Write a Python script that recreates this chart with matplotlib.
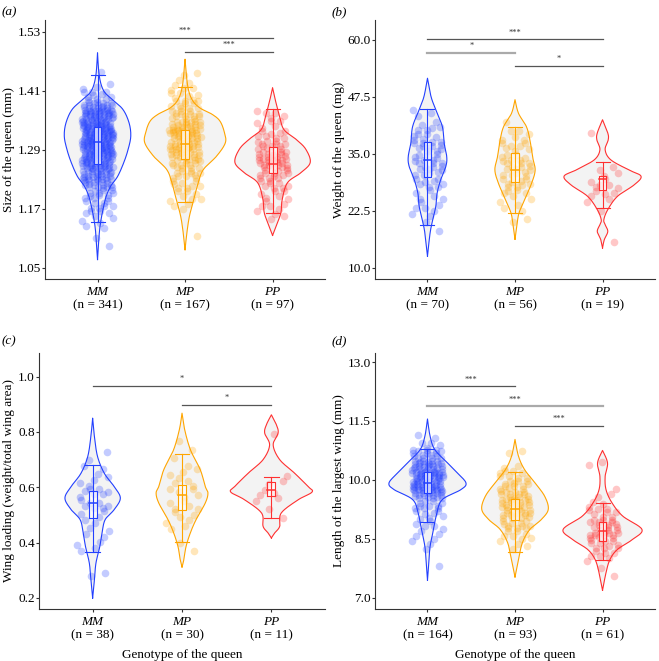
#!/usr/bin/env python3
"""Violin + jitter + box panels for queen genotype comparisons."""

import matplotlib

matplotlib.use("Agg")
import matplotlib.pyplot as plt
import numpy as np

plt.rcParams["font.family"] = ["Liberation Serif", "DejaVu Serif"]

GENOTYPES = ["MM", "MP", "PP"]
COLORS = ["#2340FF", "#FFA500", "#FF3030"]

# ---- (a) size of the queen -------------------------------------------------
SIZE_N = [341, 167, 97]
SIZE_TICKS = [1.05, 1.17, 1.29, 1.41, 1.53]
SIZE_BIN_START = 1.05
SIZE_BIN_WIDTH = 0.02
SIZE_MM_COUNTS = [0, 0, 1, 1, 4, 6, 8, 12, 18, 26, 32, 38, 42, 43, 40, 34, 22, 10, 3, 1]
SIZE_MP_COUNTS = [0, 0, 0, 1, 0, 0, 4, 6, 8, 10, 14, 18, 22, 24, 22, 14, 10, 6, 5, 3]
SIZE_PP_COUNTS = [0, 0, 0, 0, 0, 4, 5, 6, 8, 12, 16, 16, 12, 8, 5, 5]
SIZE_MM_BOX = [1.143, 1.261, 1.306, 1.336, 1.441]
SIZE_MP_BOX = [1.183, 1.272, 1.302, 1.330, 1.418]
SIZE_PP_BOX = [1.162, 1.242, 1.261, 1.296, 1.372]
SIZE_MM_VIOLIN = [(1.067, 0), (1.12, 0.02), (1.148, 0.04), (1.175, 0.07), (1.196, 0.10),
                  (1.216, 0.15), (1.236, 0.23), (1.264, 0.30), (1.291, 0.35), (1.318, 0.38),
                  (1.345, 0.36), (1.372, 0.29), (1.392, 0.17), (1.41, 0.07), (1.44, 0.02),
                  (1.487, 0)]
SIZE_MP_VIOLIN = [(1.087, 0), (1.12, 0.02), (1.155, 0.05), (1.189, 0.10), (1.223, 0.15),
                  (1.25, 0.21), (1.277, 0.36), (1.304, 0.46), (1.325, 0.45), (1.348, 0.40),
                  (1.362, 0.31), (1.375, 0.17), (1.392, 0.08), (1.42, 0.03), (1.474, 0)]
SIZE_PP_VIOLIN = [(1.116, 0), (1.135, 0.04), (1.162, 0.095), (1.189, 0.11), (1.223, 0.17),
                  (1.243, 0.32), (1.264, 0.43), (1.291, 0.38), (1.311, 0.27), (1.331, 0.13),
                  (1.358, 0.08), (1.392, 0.03), (1.416, 0)]
SIZE_SIG = [(0, 2, 1.518, "***", "dark"), (1, 2, 1.489, "***", "dark")]

# ---- (b) weight of the queen -----------------------------------------------
WEIGHT_N = [70, 56, 19]
WEIGHT_TICKS = [10.0, 22.5, 35.0, 47.5, 60.0]
WEIGHT_BIN_START = 10.0
WEIGHT_BIN_WIDTH = 2.5
WEIGHT_MM_COUNTS = [0, 0, 0, 1, 3, 5, 5, 8, 10, 11, 10, 8, 6, 3]
WEIGHT_MP_COUNTS = [0, 0, 0, 0, 2, 4, 6, 9, 11, 10, 7, 5, 2]
WEIGHT_PP_COUNTS = [0, 0, 1, 0, 0, 2, 5, 6, 4, 0, 0, 1]
WEIGHT_MM_BOX = [19.4, 29.9, 33.7, 37.7, 44.8]
WEIGHT_MP_BOX = [22.0, 28.8, 31.5, 35.2, 41.0]
WEIGHT_PP_BOX = [23.1, 27.0, 29.6, 30.2, 33.2]
WEIGHT_MM_VIOLIN = [(12.6, 0), (17.7, 0.03), (20.6, 0.06), (23.5, 0.095), (26.4, 0.11),
                    (29.3, 0.15), (32.3, 0.21), (34.4, 0.22), (37.4, 0.19), (41.0, 0.17),
                    (44.7, 0.095), (47.6, 0.04), (51.6, 0)]
WEIGHT_MP_VIOLIN = [(16.3, 0), (19.1, 0.02), (22.0, 0.045), (25.0, 0.11), (28.6, 0.19),
                    (31.5, 0.23), (34.4, 0.20), (38.1, 0.17), (41.0, 0.13), (43.9, 0.04),
                    (46.9, 0)]
WEIGHT_PP_VIOLIN = [(14.4, 0), (16.2, 0.02), (18.0, 0.06), (19.5, 0.03), (20.6, 0.015),
                    (22.8, 0.06), (25.7, 0.17), (28.2, 0.36), (30.1, 0.44), (31.5, 0.30),
                    (33.7, 0.095), (35.9, 0.03), (38.1, 0.065), (39.6, 0.06), (42.5, 0)]
WEIGHT_SIG = [(0, 2, 60.1, "***", "dark"), (0, 1, 57.2, "*", "light"), (1, 2, 54.3, "*", "dark")]

# ---- (c) wing loading ------------------------------------------------------
LOAD_N = [38, 30, 11]
LOAD_TICKS = [0.2, 0.4, 0.6, 0.8, 1.0]
LOAD_BIN_START = 0.2
LOAD_BIN_WIDTH = 0.04
LOAD_MM_COUNTS = [0, 0, 2, 0, 3, 3, 3, 4, 7, 7, 4, 3, 1, 1]
LOAD_MP_COUNTS = [0, 0, 0, 0, 1, 1, 3, 4, 5, 5, 4, 4, 1, 1, 1]
LOAD_PP_COUNTS = [0, 0, 0, 0, 0, 0, 0, 1, 2, 4, 2, 1, 0, 0, 1]
LOAD_MM_BOX = [0.367, 0.488, 0.545, 0.586, 0.681]
LOAD_MP_BOX = [0.403, 0.519, 0.574, 0.609, 0.720]
LOAD_PP_BOX = [0.488, 0.567, 0.589, 0.621, 0.639]
LOAD_MM_VIOLIN = [(0.2, 0), (0.266, 0.02), (0.326, 0.037), (0.386, 0.08), (0.435, 0.105),
                  (0.483, 0.14), (0.519, 0.24), (0.561, 0.31), (0.603, 0.24), (0.651, 0.13),
                  (0.711, 0.055), (0.783, 0.02), (0.85, 0)]
LOAD_MP_VIOLIN = [(0.312, 0), (0.338, 0.02), (0.386, 0.045), (0.435, 0.093), (0.483, 0.157),
                  (0.543, 0.26), (0.579, 0.29), (0.603, 0.26), (0.663, 0.205), (0.735, 0.095),
                  (0.808, 0.03), (0.868, 0)]
LOAD_PP_VIOLIN = [(0.417, 0), (0.435, 0.037), (0.459, 0.093), (0.507, 0.11), (0.555, 0.30),
                  (0.583, 0.455), (0.603, 0.41), (0.651, 0.26), (0.70, 0.093), (0.753, 0.02),
                  (0.796, 0.075), (0.826, 0.056), (0.862, 0)]
LOAD_SIG = [(0, 2, 0.966, "*", "dark"), (1, 2, 0.897, "*", "dark")]

# ---- (d) length of the largest wing ----------------------------------------
WING_N = [164, 93, 61]
WING_TICKS = [7.0, 8.5, 10.0, 11.5, 13.0]
WING_BIN_START = 7.0
WING_BIN_WIDTH = 0.25
WING_MM_COUNTS = [0, 0, 0, 1, 0, 3, 4, 5, 7, 10, 22, 32, 33, 25, 14, 6, 2]
WING_MP_COUNTS = [0, 0, 0, 0, 0, 4, 7, 11, 16, 17, 14, 12, 8, 2, 2]
WING_PP_COUNTS = [0, 0, 1, 2, 6, 10, 14, 12, 7, 4, 2, 1, 0, 2]
WING_MM_BOX = [8.92, 9.67, 9.92, 10.19, 10.79]
WING_MP_BOX = [8.16, 8.97, 9.25, 9.52, 10.19]
WING_PP_BOX = [7.96, 8.45, 8.71, 8.92, 9.40]
WING_MM_VIOLIN = [(7.45, 0), (7.89, 0.015), (8.31, 0.03), (8.74, 0.069), (9.16, 0.107),
                  (9.5, 0.17), (9.75, 0.38), (9.92, 0.44), (10.18, 0.34), (10.43, 0.23),
                  (10.77, 0.084), (11.11, 0.03), (11.55, 0)]
WING_MP_VIOLIN = [(7.53, 0), (7.97, 0.04), (8.4, 0.084), (8.74, 0.17), (8.99, 0.30),
                  (9.25, 0.38), (9.58, 0.34), (9.92, 0.23), (10.26, 0.11), (10.6, 0.04),
                  (11.03, 0)]
WING_PP_VIOLIN = [(7.19, 0), (7.64, 0.04), (7.97, 0.084), (8.23, 0.17), (8.48, 0.34),
                  (8.74, 0.45), (9.08, 0.23), (9.42, 0.107), (9.75, 0.04), (10.09, 0.03),
                  (10.43, 0.057), (10.75, 0)]
WING_SIG = [(0, 1, 12.38, "***", "dark"), (0, 2, 11.87, "***", "light"),
            (1, 2, 11.38, "***", "dark")]

SIG_COLORS = {"dark": "#555555", "light": "#AAAAAA"}
AXIS_COLOR = "#333333"
FONT_SIZE = 9.5


def smooth_outline(pairs, steps=16):
    # Catmull-Rom through the read-off outline so the violin edge looks curved.
    pts = np.array(pairs, dtype=float)
    pts = np.vstack([pts[0], pts, pts[-1]])
    out = []
    for i in range(1, len(pts) - 2):
        p0, p1, p2, p3 = pts[i - 1], pts[i], pts[i + 1], pts[i + 2]
        t = np.linspace(0, 1, steps, endpoint=False)[:, None]
        seg = 0.5 * ((2 * p1) + (-p0 + p2) * t + (2 * p0 - 5 * p1 + 4 * p2 - p3) * t ** 2
                     + (-p0 + 3 * p1 - 3 * p2 + p3) * t ** 3)
        out.append(seg)
    out.append(pts[-2][None, :])
    out = np.vstack(out)
    return out[:, 0], np.clip(out[:, 1], 0, None)


def spread_points(counts, start, width):
    # Place each binned observation inside its bin (deterministic low-discrepancy layout).
    ys, xs = [], []
    k = 0
    for i, c in enumerate(counts):
        lo = start + i * width
        for _ in range(c):
            k += 1
            ys.append(lo + ((0.5 + k * 0.7548776662) % 1.0) * width)
            xs.append(((0.3 + k * 0.5698402910) % 1.0) * 2 - 1)
    return np.array(xs), np.array(ys)


def draw_group(ax, pos, color, violin, counts, bin_start, bin_width, box):
    vy, vw = smooth_outline(violin)
    ax.fill_betweenx(vy, pos - vw, pos + vw, facecolor="#F3F3F3", edgecolor="none", zorder=1)
    ax.plot(np.r_[pos - vw, (pos + vw)[::-1]], np.r_[vy, vy[::-1]], color=color, lw=0.8,
            zorder=2)

    jx, jy = spread_points(counts, bin_start, bin_width)
    ax.scatter(pos + 0.18 * jx, jy, s=30, color=color, alpha=0.27, linewidths=0, zorder=3)

    low, q1, med, q3, high = box
    box_half = 0.045
    cap_half = 0.08
    ax.add_patch(plt.Rectangle((pos - box_half, q1), 2 * box_half, q3 - q1,
                               facecolor="white", alpha=0.7, edgecolor="none", zorder=4))
    ax.plot([pos, pos], [low, high], color=color, lw=0.8, zorder=5)
    ax.plot([pos - cap_half, pos + cap_half], [low, low], color=color, lw=0.8, zorder=5)
    ax.plot([pos - cap_half, pos + cap_half], [high, high], color=color, lw=0.8, zorder=5)
    ax.plot([pos - box_half, pos + box_half, pos + box_half, pos - box_half, pos - box_half],
            [q1, q1, q3, q3, q1], color=color, lw=0.8, zorder=6)
    ax.plot([pos - box_half, pos + box_half], [med, med], color=color, lw=1.1, zorder=6)


def style_axis(ax, ticks, ylim, fmt, ylabel, n_values, show_xlabel):
    ax.set_xlim(0.4, 3.6)
    ax.set_ylim(*ylim)
    ax.set_yticks(ticks)
    ax.set_yticklabels([fmt.format(t) for t in ticks])
    ax.set_xticks([1, 2, 3])
    ax.set_xticklabels([])
    for side in ("top", "right"):
        ax.spines[side].set_visible(False)
    for side in ("left", "bottom"):
        ax.spines[side].set_color(AXIS_COLOR)
        ax.spines[side].set_linewidth(0.8)
    ax.tick_params(length=2, width=0.8, color=AXIS_COLOR, labelsize=FONT_SIZE,
                   labelcolor="black", pad=1)
    ax.set_ylabel(ylabel, fontsize=FONT_SIZE, labelpad=2)

    trans = ax.get_xaxis_transform()
    for i, (g, n) in enumerate(zip(GENOTYPES, n_values)):
        ax.annotate(g, xy=(i + 1, 0), xycoords=trans, xytext=(0, -5),
                    textcoords="offset points", ha="center", va="top",
                    fontsize=FONT_SIZE, style="italic")
        ax.annotate(f"(n = {n})", xy=(i + 1, 0), xycoords=trans, xytext=(0, -15),
                    textcoords="offset points", ha="center", va="top", fontsize=FONT_SIZE)
    if show_xlabel:
        ax.annotate("Genotype of the queen", xy=(0.5, 0), xycoords="axes fraction",
                    xytext=(0, -29), textcoords="offset points", ha="center", va="top",
                    fontsize=FONT_SIZE)


def draw_sig(ax, bars):
    for a, b, y, label, tone in bars:
        color = SIG_COLORS[tone]
        lw = 1.6 if tone == "light" else 0.9
        ax.plot([a + 1, b + 1], [y, y], color=color, lw=lw, zorder=2)
        ax.annotate(label, xy=((a + b) / 2 + 1, y), xytext=(0, 2),
                    textcoords="offset points", ha="center", va="bottom", fontsize=6,
                    color="#333333")


def make_panel(fig, rect, letter, groups, bin_start, bin_width, ticks, ylim, fmt, ylabel,
               n_values, sig, show_xlabel, letter_xy):
    ax = fig.add_axes(rect)
    for i, (violin, counts, box) in enumerate(groups):
        draw_group(ax, i + 1, COLORS[i], violin, counts, bin_start, bin_width, box)
    draw_sig(ax, sig)
    style_axis(ax, ticks, ylim, fmt, ylabel, n_values, show_xlabel)
    fig.text(letter_xy[0], letter_xy[1], f"({letter})", fontsize=FONT_SIZE,
             style="italic", ha="left", va="center")
    return ax


def main():
    fig = plt.figure(figsize=(6.59, 6.61), dpi=100)
    top_b, top_h = 0.578, 0.392
    bot_b, bot_h = 0.079, 0.387
    right_l, right_w = 0.569, 0.425

    make_panel(fig, [0.0683, top_b, 0.425, top_h], "a",
               [(SIZE_MM_VIOLIN, SIZE_MM_COUNTS, SIZE_MM_BOX),
                (SIZE_MP_VIOLIN, SIZE_MP_COUNTS, SIZE_MP_BOX),
                (SIZE_PP_VIOLIN, SIZE_PP_COUNTS, SIZE_PP_BOX)],
               SIZE_BIN_START, SIZE_BIN_WIDTH, SIZE_TICKS, (1.0276, 1.554), "{:.2f}",
               "Size of the queen (mm)", SIZE_N, SIZE_SIG, False, (0.003, 0.982))

    make_panel(fig, [right_l, top_b, right_w, top_h], "b",
               [(WEIGHT_MM_VIOLIN, WEIGHT_MM_COUNTS, WEIGHT_MM_BOX),
                (WEIGHT_MP_VIOLIN, WEIGHT_MP_COUNTS, WEIGHT_MP_BOX),
                (WEIGHT_PP_VIOLIN, WEIGHT_PP_COUNTS, WEIGHT_PP_BOX)],
               WEIGHT_BIN_START, WEIGHT_BIN_WIDTH, WEIGHT_TICKS, (7.6, 64.4), "{:.1f}",
               "Weight of the queen (mg)", WEIGHT_N, WEIGHT_SIG, False, (0.503, 0.982))

    make_panel(fig, [0.0592, bot_b, 0.434, bot_h], "c",
               [(LOAD_MM_VIOLIN, LOAD_MM_COUNTS, LOAD_MM_BOX),
                (LOAD_MP_VIOLIN, LOAD_MP_COUNTS, LOAD_MP_BOX),
                (LOAD_PP_VIOLIN, LOAD_PP_COUNTS, LOAD_PP_BOX)],
               LOAD_BIN_START, LOAD_BIN_WIDTH, LOAD_TICKS, (0.161, 1.0855), "{:.1f}",
               "Wing loading (weight/total wing area)", LOAD_N, LOAD_SIG, True,
               (0.003, 0.484))

    make_panel(fig, [right_l, bot_b, right_w, bot_h], "d",
               [(WING_MM_VIOLIN, WING_MM_COUNTS, WING_MM_BOX),
                (WING_MP_VIOLIN, WING_MP_COUNTS, WING_MP_BOX),
                (WING_PP_VIOLIN, WING_PP_COUNTS, WING_PP_BOX)],
               WING_BIN_START, WING_BIN_WIDTH, WING_TICKS, (6.72, 13.23), "{:.1f}",
               "Length of the largest wing (mm)", WING_N, WING_SIG, True, (0.503, 0.484))

    fig.savefig("out.png", dpi=100)
    plt.close(fig)


if __name__ == "__main__":
    main()
